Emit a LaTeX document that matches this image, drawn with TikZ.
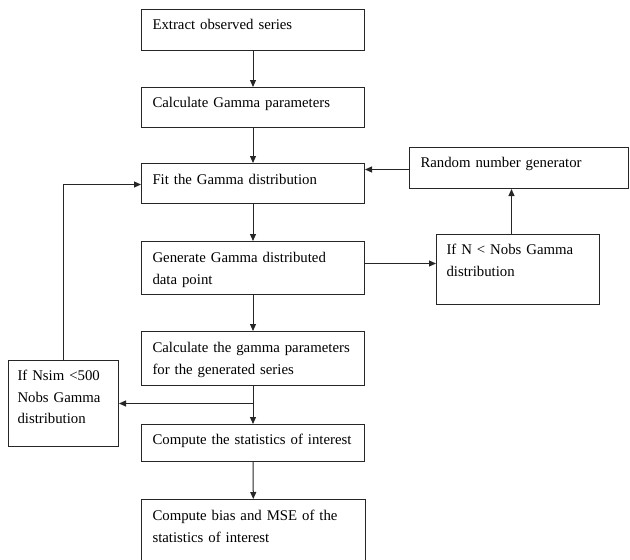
\documentclass[tikz,border=0pt]{standalone}
\usepackage{fontspec}
\setmainfont{Liberation Serif}
\usetikzlibrary{arrows.meta}
\begin{document}
\begin{tikzpicture}[x=1pt,y=-1pt,
  box/.style={draw=black!85, line width=1pt, anchor=north west, inner ysep=0pt,
    inner xsep=11pt, align=left, font=\fontsize{14.8}{21.6}\selectfont},
  arr/.style={draw=black!85, line width=1pt, -{Triangle[length=7pt,width=6pt]}},
  ln/.style={draw=black!85, line width=1pt}]
\useasboundingbox (0,0) rectangle (630,560);
\clip (0,0) rectangle (630,560);
\node[box, text width=201pt, text height=20pt, text depth=21pt] (b1) at (141,9)
  {\mbox{Extract observed series}};
\node[box, text width=201pt, text height=20pt, text depth=20pt] (b2) at (141,87)
  {\mbox{Calculate Gamma parameters}};
\node[box, text width=201pt, text height=21pt, text depth=19pt] (b3) at (141,163)
  {\mbox{Fit the Gamma distribution}};
\node[box, text width=201pt, text height=21pt, text depth=32pt] (b4) at (141,241)
  {\mbox{Generate Gamma distributed}\\\mbox{data point}};
\node[box, text width=201pt, text height=21pt, text depth=33pt] (b5) at (141,331)
  {\mbox{Calculate the gamma parameters}\\\mbox{for the generated series}};
\node[box, text width=201pt, text height=20pt, text depth=17pt] (b6) at (141,424)
  {\mbox{Compute the statistics of interest}};
\node[box, text width=202pt, text height=21pt, text depth=59pt] (b7) at (141,499)
  {\mbox{Compute bias and MSE of the}\\\mbox{statistics of interest}};
\node[box, text width=197pt, text height=20pt, text depth=21pt] (rng) at (409,147)
  {\mbox{Random number generator}};
\node[box, inner xsep=10pt, text width=143pt, text height=20pt, text depth=50pt] (ifn) at (436,234)
  {\mbox{If N < Nobs Gamma}\\\mbox{distribution}};
\node[box, inner xsep=9pt, text width=92pt, text height=20pt, text depth=66pt] (ifs) at (8,360)
  {\mbox{If Nsim <500}\\\mbox{Nobs Gamma}\\\mbox{distribution}};
% main chain
\draw[arr] (b1) -- (b2);
\draw[arr] (b2) -- (b3);
\draw[arr] (b3) -- (b4);
\draw[arr] (b4) -- (b5);
\coordinate (br) at (b5.south |- ifs.east);
\draw[arr] (b5.south) -- (b6.north);
\draw[arr] (br) -- (ifs.east);
\draw[arr] (b6) -- (b7);
% loop back from ifs to b3
\draw[arr] (ifs.north) |- ([yshift=-1pt]b3.west);
% side loop
\coordinate (p4) at ([yshift=4.5pt]b4.east);
\draw[arr] (p4) -- (p4 -| ifn.west);
\coordinate (pn) at ([xshift=-6.5pt]ifn.north);
\draw[arr] (pn) -- (pn |- rng.south);
\coordinate (pr) at ([yshift=-1.5pt]rng.west);
\draw[arr] (pr) -- (pr -| b3.east);
\end{tikzpicture}
\end{document}
